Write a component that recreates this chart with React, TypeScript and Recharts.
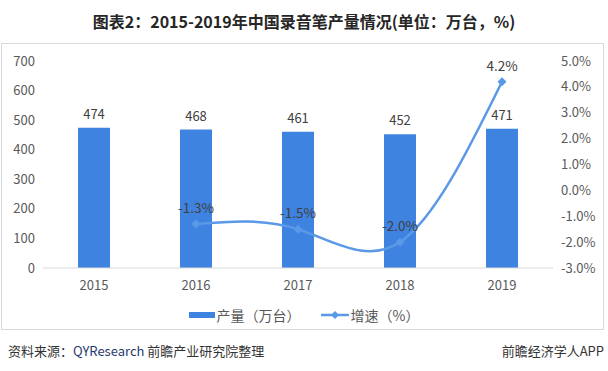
import React from 'react';
import { ComposedChart, Bar, Line, XAxis, YAxis, LabelList } from 'recharts';

const years = ['2015', '2016', '2017', '2018', '2019'];
const output = [474, 468, 461, 452, 471];
const growth: (number | null)[] = [null, -1.3, -1.5, -2.0, 4.2];
const leftTicks = [0, 100, 200, 300, 400, 500, 600, 700];
const rightTicks = [-3, -2, -1, 0, 1, 2, 3, 4, 5];

const data = years.map((y, i) => ({ year: y, output: output[i], growth: growth[i] }));

const BAR_COLOR = '#3f83e0';
const LINE_COLOR = '#5a98e8';
const FONT = '"Noto Sans CJK SC", "Noto Sans", sans-serif';

const Diamond = (props: any) => {
  const { cx, cy, value } = props;
  if (value == null || cx == null || cy == null) return null;
  const s = 4.5;
  return <path d={`M${cx},${cy - s}L${cx + s},${cy}L${cx},${cy + s}L${cx - s},${cy}Z`} fill={LINE_COLOR} />;
};

const LegendContent = () => (
  <div style={{ display: 'flex', justifyContent: 'center', alignItems: 'center', fontFamily: FONT, fontSize: 14, color: '#595959' }}>
    <svg width={26} height={10} style={{ marginRight: 2 }}>
      <rect x={0} y={2} width={26} height={6} fill={BAR_COLOR} />
    </svg>
    <span>产量（万台）</span>
    <svg width={28} height={10} style={{ marginLeft: 20, marginRight: 2 }}>
      <line x1={0} y1={5} x2={28} y2={5} stroke={LINE_COLOR} strokeWidth={2.5} />
      <path d="M14,1L18,5L14,9L10,5Z" fill={LINE_COLOR} />
    </svg>
    <span>增速（%）</span>
  </div>
);

export default function App() {
  return (
    <div style={{ position: 'absolute', left: 0, top: 0, width: 608, height: 371, background: '#fff', fontFamily: FONT }}>
      <div style={{ position: 'absolute', left: 0, top: 9, width: 608, textAlign: 'center', fontSize: 16, fontWeight: 'bold', color: '#262626' }}>
        图表2：2015-2019年中国录音笔产量情况(单位：万台，%)
      </div>
      <div style={{ position: 'absolute', left: 1, top: 43, width: 603, height: 287, border: '1px solid #d9d9d9', boxSizing: 'border-box' }} />
      <div style={{ position: 'absolute', left: 0, top: 0 }}>
        <ComposedChart width={608} height={298} data={data} margin={{ top: 61, right: 0, bottom: 0, left: 0 }}>
          <XAxis dataKey="year" axisLine={{ stroke: '#d9d9d9' }} tickLine={false} tick={{ fill: '#595959', fontSize: 13 }} height={30} tickMargin={7} />
          <YAxis yAxisId="left" orientation="left" width={43} domain={[0, 700]} ticks={leftTicks} axisLine={false} tickLine={false} tick={{ fill: '#595959', fontSize: 13 }} />
          <YAxis yAxisId="right" orientation="right" width={55} domain={[-3, 5]} ticks={rightTicks} axisLine={false} tickLine={false} tick={{ fill: '#595959', fontSize: 13 }} tickFormatter={(v: number) => `${v.toFixed(1)}%`} />
          <Bar yAxisId="left" dataKey="output" fill={BAR_COLOR} barSize={32} isAnimationActive={false}>
            <LabelList dataKey="output" position="top" offset={9} fill="#404040" fontSize={13} />
          </Bar>
          <Line yAxisId="right" dataKey="growth" type="natural" stroke={LINE_COLOR} strokeWidth={2.5} dot={<Diamond />} activeDot={false} connectNulls={false} isAnimationActive={false}>
            <LabelList dataKey="growth" position="top" offset={11} fill="#404040" fontSize={13.5} formatter={(v: any) => (v == null ? '' : `${Number(v).toFixed(1)}%`)} />
          </Line>
        </ComposedChart>
      </div>
      <div style={{ position: 'absolute', left: 0, top: 305, width: 608 }}>
        <LegendContent />
      </div>
      <div style={{ position: 'absolute', left: 8, top: 341, fontSize: 13, color: '#333' }}>
        资料来源：<span style={{ color: '#1f3a6e' }}>QYResearch</span> 前瞻产业研究院整理
      </div>
      <div style={{ position: 'absolute', right: 4, top: 341, fontSize: 13, color: '#333' }}>
        前瞻经济学人APP
      </div>
    </div>
  );
}
